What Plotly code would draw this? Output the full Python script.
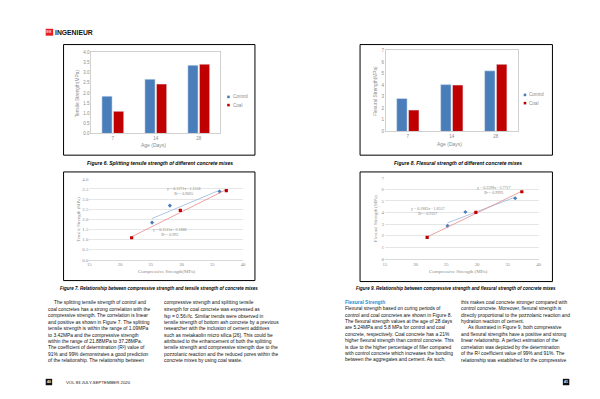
import numpy as np
import plotly.graph_objects as go

# ---------------- data ----------------
ages = ["7", "14", "28"]
tensile_control = [1.84, 2.68, 3.37]
tensile_coal = [1.09, 2.44, 3.42]
flexural_control = [2.85, 4.05, 5.24]
flexural_coal = [1.85, 4.01, 5.80]
comp_control = [25.2, 28.1, 36.2]
comp_coal = [21.88, 29.8, 37.28]

eq7_control = "y = 0.1271x - 1.1558<br>R² = 0.9065"
eq7_coal = "y = 0.1513x - 2.1888<br>R² = 0.993"
eq9_control = "y = 0.1882x - 1.8557<br>R² = 0.9167"
eq9_coal = "y = 0.2598x - 3.7717<br>R² = 0.9993"

captions = [
    "Figure 6. Splitting tensile strength of different concrete mixes",
    "Figure 8. Flexural strength of different concrete mixes",
    "Figure 7. Relationship between compressive strength and tensile strength of concrete mixes",
    "Figure 9. Relationship between compressive strength and flexural strength of concrete mixes",
]

col1 = [
    "    The splitting tensile strength of control and",
    "coal concretes has a strong correlation with the",
    "compressive strength. The correlation is linear",
    "and positive as shown in Figure 7. The splitting",
    "tensile strength is within the range of 1.09MPa",
    "to 3.42MPa and the compressive strength",
    "within the range of 21.88MPa to 37.28MPa.",
    "The coefficient of determination (R²) value of",
    "91% and 99% demonstrates a good prediction",
    "of the relationship. The relationship between",
]
col2 = [
    "compressive strength and splitting tensile",
    "strength for coal concrete was expressed as",
    "fsp = 0.56√fc. Similar trends were observed in",
    "tensile strength of bottom ash concrete by a previous",
    "researcher with the inclusion of cement additives",
    "such as metakaolin micro silica [26]. This could be",
    "attributed to the enhancement of both the splitting",
    "tensile strength and compressive strength due to the",
    "pozzolanic reaction and the reduced pores within the",
    "concrete mixes by using coal waste.",
]
col3_head = "Flexural Strength"
col3 = [
    "Flexural strength based on curing periods of",
    "control and coal concretes are shown in Figure 8.",
    "The flexural strength values at the age of 28 days",
    "are 5.24MPa and 5.8 MPa for control and coal",
    "concrete, respectively. Coal concrete has a 21%",
    "higher flexural strength than control concrete. This",
    "is due to the higher percentage of filler compared",
    "with control concrete which increases the bonding",
    "between the aggregates and cement. As such,",
]
col4 = [
    "this makes coal concrete stronger compared with",
    "control concrete. Moreover, flexural strength is",
    "directly proportional to the pozzolanic reaction and",
    "hydration reaction of cement.",
    "    As illustrated in Figure 9, both compressive",
    "and flexural strengths have a positive and strong",
    "linear relationship. A perfect estimation of the",
    "correlation was depicted by the determination",
    "of the R² coefficient value of 99% and 91%. The",
    "relationship was established for the compressive",
]
footer_left = "VOL 83 JULY-SEPTEMBER 2020"
page_left, page_right = "40", "41"

# ---------------- styles ----------------
W, H = 600, 399
BLUE = "#4a7ebb"
RED = "#c00000"
GREY = "#8c8c8c"
SANS = "Liberation Sans, Arial, sans-serif"
SERIF = "Liberation Serif, Times New Roman, serif"


def px(x):
    return x / W


def py(y):
    return 1 - y / H


fig = go.Figure()

# bar charts
fig.add_trace(go.Bar(x=ages, y=tensile_control, marker_color=BLUE, xaxis="x", yaxis="y", showlegend=False))
fig.add_trace(go.Bar(x=ages, y=tensile_coal, marker_color=RED, xaxis="x", yaxis="y", showlegend=False))
fig.add_trace(go.Bar(x=ages, y=flexural_control, marker_color=BLUE, xaxis="x2", yaxis="y2", showlegend=False))
fig.add_trace(go.Bar(x=ages, y=flexural_coal, marker_color=RED, xaxis="x2", yaxis="y2", showlegend=False))


def trend(xs, ys):
    k, b = np.polyfit(xs, ys, 1)
    xx = np.array([min(xs), max(xs)])
    return xx, k * xx + b


for xs, ys, col, lc, sym, ax in [
    (comp_control, tensile_control, BLUE, "#9bb7dd", "diamond", ("x3", "y3")),
    (comp_coal, tensile_coal, RED, "#e58a8a", "square", ("x3", "y3")),
    (comp_control, flexural_control, BLUE, "#9bb7dd", "diamond", ("x4", "y4")),
    (comp_coal, flexural_coal, RED, "#e58a8a", "square", ("x4", "y4")),
]:
    tx, ty = trend(xs, ys)
    fig.add_trace(go.Scatter(x=tx, y=ty, mode="lines", line=dict(color=lc, width=0.8),
                             xaxis=ax[0], yaxis=ax[1], showlegend=False, hoverinfo="skip"))
    fig.add_trace(go.Scatter(x=xs, y=ys, mode="markers", marker=dict(color=col, size=3.2, symbol=sym),
                             xaxis=ax[0], yaxis=ax[1], showlegend=False))

tickfont_sans = dict(family=SANS, size=4.5, color=GREY)
tickfont_serif = dict(family=SERIF, size=4.8, color=GREY)

bar_x = dict(type="category", showline=True, linecolor="#d0d0d0", linewidth=0.8, mirror=True,
             showgrid=False, ticks="", tickfont=tickfont_sans, fixedrange=True)
bar_y = dict(showline=True, linecolor="#d0d0d0", linewidth=0.8, mirror=True, showgrid=False,
             zeroline=False, ticks="", tickfont=tickfont_sans, fixedrange=True)
sc_x = dict(range=[15, 40], dtick=5, showline=True, linecolor="#d9d9d9", linewidth=0.8, showgrid=False,
            zeroline=False, ticks="", tickfont=tickfont_serif, fixedrange=True)
sc_y = dict(showline=False, showgrid=True, gridcolor="#e6e6e6", gridwidth=0.6, zeroline=False,
            ticks="", tickfont=tickfont_serif, fixedrange=True)

fig.update_layout(
    width=W, height=H, margin=dict(l=0, r=0, t=0, b=0),
    paper_bgcolor="white", plot_bgcolor="white",
    barmode="group", bargap=0.46, bargroupgap=0.12,
    xaxis=dict(bar_x, domain=[px(82), px(212)], anchor="y"),
    yaxis=dict(bar_y, domain=[py(125), py(43)], range=[0, 4], dtick=0.5, tickformat=".1f", anchor="x"),
    xaxis2=dict(bar_x, domain=[px(379), px(512)], anchor="y2"),
    yaxis2=dict(bar_y, domain=[py(123), py(41)], range=[0, 7], dtick=1, anchor="x2"),
    xaxis3=dict(sc_x, domain=[px(80), px(235)], anchor="y3"),
    yaxis3=dict(sc_y, domain=[py(253), py(171)], range=[0, 4], dtick=0.5, tickformat=".1f", anchor="x3"),
    xaxis4=dict(sc_x, domain=[px(378), px(533)], anchor="y4"),
    yaxis4=dict(sc_y, domain=[py(252), py(170)], range=[0, 7], dtick=1, anchor="x4"),
    showlegend=False,
)

shapes = []
ann = []

# chart frames
for x0, y0, x1, y1 in [(54, 35, 247, 147), (353, 35, 547, 147), (54, 164, 247, 274), (353, 164, 547, 275)]:
    shapes.append(dict(type="rect", xref="paper", yref="paper", x0=px(x0), x1=px(x1), y0=py(y1), y1=py(y0),
                       line=dict(color="black", width=1)))

# manual legends for the bar charts
for lx, ly in [(219, 88), (518, 86)]:
    for i, (name, col) in enumerate([("Control", BLUE), ("Coal", RED)]):
        yy = ly + i * 8.3
        shapes.append(dict(type="rect", xref="paper", yref="paper", x0=px(lx), x1=px(lx + 2.6),
                           y0=py(yy + 1.3), y1=py(yy - 1.3), fillcolor=col, line=dict(width=0)))
        ann.append(dict(x=px(lx + 3.6), y=py(yy), xref="paper", yref="paper", text=name, showarrow=False,
                        xanchor="left", yanchor="middle", font=dict(family=SANS, size=4.6, color=GREY)))

# axis titles
for x, y, t, fam in [(69, 84, "Tensile Strength(MPa)", SANS), (369, 82, "Flexural Strength(MPa)", SANS),
                     (69, 212, "Tensile Strength (MPa)", SERIF), (368, 211, "Flexural Strength (MPa)", SERIF)]:
    ann.append(dict(x=px(x), y=py(y), xref="paper", yref="paper", text=t, textangle=-90, showarrow=False,
                    xanchor="center", yanchor="middle", font=dict(family=fam, size=4.8, color=GREY)))
for x, y, t, fam in [(145, 137, "Age (Days)", SANS), (443, 136, "Age (Days)", SANS),
                     (158, 265, "Compressive Strength(MPa)", SERIF), (452, 264.5, "Compressive Strength (MPa)", SERIF)]:
    ann.append(dict(x=px(x), y=py(y), xref="paper", yref="paper", text=t, showarrow=False,
                    xanchor="center", yanchor="middle", font=dict(family=fam, size=5, color=GREY)))

# regression equations
for x, y, t, xr, yr in [(30.4, 3.41, eq7_control, "x3", "y3"), (28.2, 1.36, eq7_coal, "x3", "y3"),
                        (22.0, 4.15, eq9_control, "x4", "y4"), (32.7, 5.94, eq9_coal, "x4", "y4")]:
    ann.append(dict(x=x, y=y, xref=xr, yref=yr, text=t, showarrow=False, xanchor="center", yanchor="middle",
                    align="center", font=dict(family=SERIF, size=4, color="#7f7f7f")))

# captions
for x, y, t, s in [(151, 154.5, captions[0], 5.0), (452, 154.5, captions[1], 5.0),
                   (150, 281.7, captions[2], 4.5), (450, 281.7, captions[3], 4.5)]:
    ann.append(dict(x=px(x), y=py(y), xref="paper", yref="paper", text="<b><i>" + t + "</i></b>",
                    showarrow=False, xanchor="center", yanchor="middle",
                    font=dict(family=SANS, size=s, color="black")))


# body text
def add_lines(lines, x0, y0, step=6.5, color="#111111", bold=False):
    for i, ln in enumerate(lines):
        txt = ln.strip()
        indent = 6.5 if ln.startswith("    ") else 0
        if bold:
            txt = "<b>" + txt + "</b>"
        ann.append(dict(x=px(x0 + indent), y=py(y0 + i * step), xref="paper", yref="paper", text=txt,
                        showarrow=False, xanchor="left", yanchor="middle",
                        font=dict(family=SANS, size=4.9, color=color)))


add_lines(col1, 36, 296.7)
add_lines(col2, 153, 296.7)
add_lines([col3_head], 336, 296, color="#1a8fd6", bold=True)
add_lines(col3, 336, 302.4)
add_lines(col4, 453, 296)

# header logo
shapes.append(dict(type="rect", xref="paper", yref="paper", x0=px(36), x1=px(43.5), y0=py(26), y1=py(19),
                   fillcolor="#e31e24", line=dict(width=0)))
ann.append(dict(x=px(39.75), y=py(22.5), xref="paper", yref="paper", text="IEM", showarrow=False,
                xanchor="center", yanchor="middle", font=dict(family=SANS, size=3, color="white")))
ann.append(dict(x=px(43.5), y=py(22.5), xref="paper", yref="paper", text="<b>INGENIEUR</b>", showarrow=False,
                xanchor="left", yanchor="middle", font=dict(family=SANS, size=6.8, color="#111111")))

# footer
for x0, num in [(36, page_left), (557.5, page_right)]:
    shapes.append(dict(type="rect", xref="paper", yref="paper", x0=px(x0), x1=px(x0 + 6.5), y0=py(380),
                       y1=py(373.5), fillcolor="#111111", line=dict(width=0)))
    ann.append(dict(x=px(x0 + 3.25), y=py(376.8), xref="paper", yref="paper", text="<b>" + num + "</b>",
                    showarrow=False, xanchor="center", yanchor="middle",
                    font=dict(family=SANS, size=3.5, color="white")))
ann.append(dict(x=px(54), y=py(376.8), xref="paper", yref="paper", text=footer_left, showarrow=False,
                xanchor="left", yanchor="middle", font=dict(family=SANS, size=4.3, color="#111111")))

fig.update_layout(shapes=shapes, annotations=ann)
fig.write_html("out.html")
